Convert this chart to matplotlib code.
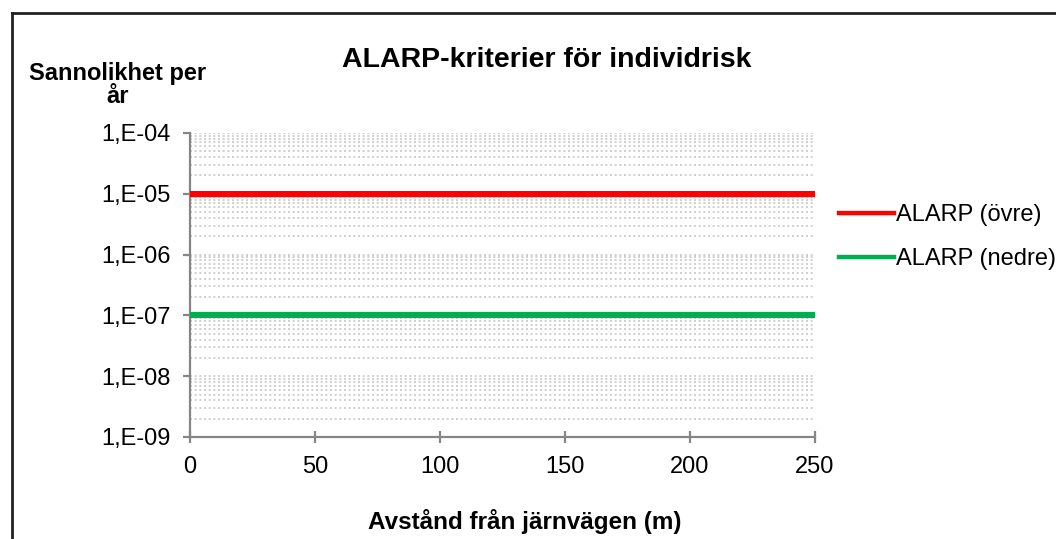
import math
import matplotlib.pyplot as plt
from matplotlib.lines import Line2D
from matplotlib.ticker import FuncFormatter, LogLocator, FixedLocator

# data
distance = [0, 250]
alarp_upper = [1e-5, 1e-5]
alarp_lower = [1e-7, 1e-7]
series_names = ['ALARP (övre)', 'ALARP (nedre)']
x_ticks = [0, 50, 100, 150, 200, 250]

plt.rcParams['font.family'] = ['Liberation Sans', 'DejaVu Sans']

fig = plt.figure(figsize=(10.56, 5.39), dpi=100)
ax = fig.add_axes([190 / 1056, 1 - 437 / 539, 625 / 1056, 304 / 539])

ax.plot(distance, alarp_upper, color='#ff0000', lw=4.4, solid_capstyle='butt', zorder=3)
ax.plot(distance, alarp_lower, color='#00b050', lw=4.4, solid_capstyle='butt', zorder=3)

ax.set_yscale('log')
ax.set_ylim(1e-9, 1e-4)
ax.set_xlim(0, 250)
ax.xaxis.set_major_locator(FixedLocator(x_ticks))
ax.yaxis.set_major_locator(LogLocator(base=10, numticks=10))
ax.yaxis.set_minor_locator(LogLocator(base=10, subs=range(2, 10), numticks=20))
ax.yaxis.set_major_formatter(FuncFormatter(lambda v, p: '1,E-%02d' % round(-math.log10(v))))

ax.grid(True, axis='y', which='both', color='#c8c8c8', linestyle=(0, (1.2, 1.6)), lw=1.2)
ax.set_axisbelow(True)

for s in ['top', 'right']:
    ax.spines[s].set_visible(False)
for s in ['left', 'bottom']:
    ax.spines[s].set_color('#868686')
    ax.spines[s].set_linewidth(1.6)

ax.tick_params(axis='y', which='major', direction='out', length=5, width=1.6, color='#868686',
               labelsize=17, pad=9)
ax.tick_params(axis='y', which='minor', length=0)
ax.tick_params(axis='x', direction='inout', length=9, width=1.6, color='#868686',
               labelsize=17, pad=9)

# title and axis labels
fig.text(547 / 1056, 1 - 60 / 539, 'ALARP-kriterier för individrisk', ha='center', va='center',
         fontsize=20.5, fontweight='bold')
fig.text(118 / 1056, 1 - 85 / 539, 'Sannolikhet per\når', ha='center', va='center',
         fontsize=17, fontweight='bold', linespacing=1.0)
fig.text(525 / 1056, 1 - 522 / 539, 'Avstånd från järnvägen (m)', ha='center', va='center',
         fontsize=17.5, fontweight='bold')

# legend
handles = [Line2D([], [], color='#ff0000', lw=3.2),
           Line2D([], [], color='#00b050', lw=3.2)]
fig.legend(handles, series_names, loc='center left', bbox_to_anchor=(818 / 1056, 1 - 237 / 539),
           frameon=False, fontsize=17, handlelength=2.3, handletextpad=0.1, labelspacing=0.95)

# outer frame
fig.add_artist(Line2D([12 / 1056, 1], [1 - 13 / 539, 1 - 13 / 539], transform=fig.transFigure,
                      color='#222222', lw=2))
fig.add_artist(Line2D([12 / 1056, 12 / 1056], [1 - 13 / 539, 0], transform=fig.transFigure,
                      color='#222222', lw=2))

fig.savefig('out.png', dpi=100, facecolor='white')
